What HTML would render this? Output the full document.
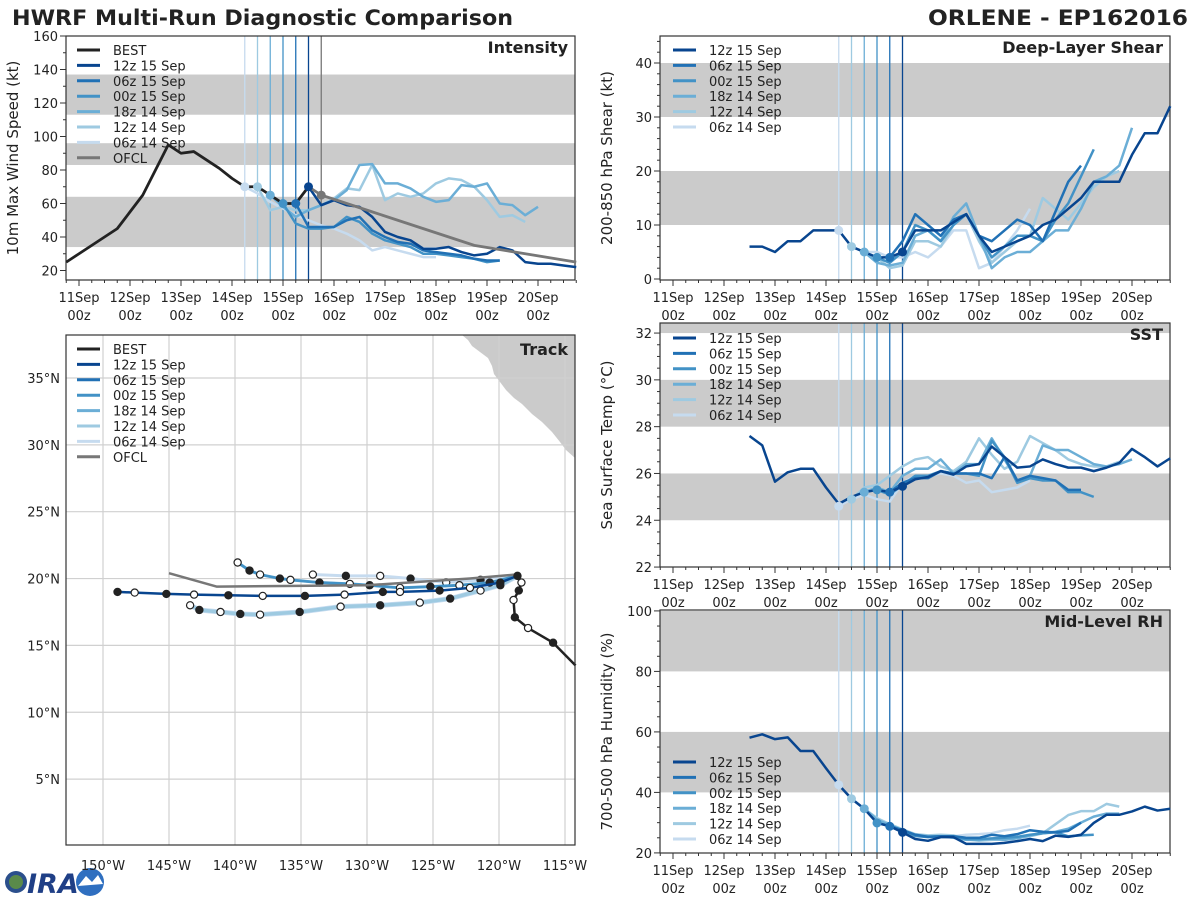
<!DOCTYPE html>
<html><head><meta charset="utf-8"><style>
body{margin:0;background:#fff;}
svg text{font-family:"DejaVu Sans","Liberation Sans",sans-serif;fill:#222;}
</style></head><body>
<svg id="chart" width="1200" height="900" viewBox="0 0 1200 900" xmlns="http://www.w3.org/2000/svg">
<text x="12" y="25" font-size="21" font-weight="bold" textLength="501" lengthAdjust="spacingAndGlyphs">HWRF Multi-Run Diagnostic Comparison</text>
<text x="928" y="25" font-size="21" font-weight="bold" textLength="260" lengthAdjust="spacingAndGlyphs">ORLENE - EP162016</text>
<g>
<circle cx="16" cy="882" r="11" fill="#2b4f8c"/><circle cx="16" cy="882" r="7" fill="#5a8a4a"/>
<text x="27" y="893" font-size="27" font-weight="bold" font-style="italic" style="fill:#1f3f86">IRA</text>
<circle cx="90" cy="882" r="14" fill="#2f6fc0"/><path d="M78 886 L86 876 L92 882 L98 875 L103 884 Z" fill="#fff"/>
</g>
</svg>
<script>
const runNames=['12z 15 Sep','06z 15 Sep','00z 15 Sep','18z 14 Sep','12z 14 Sep','06z 14 Sep'];
const runColors=['#08458f','#2171b5','#4292c6','#6baed6','#9ecae1','#c6dbef'];
const runStarts=[4.5,4.25,4,3.75,3.5,3.25];
const dayLabels=['11Sep','12Sep','13Sep','14Sep','15Sep','16Sep','17Sep','18Sep','19Sep','20Sep'];

const bestIntStart=-0.25;
const bestInt=[25,30,35,40,45,55,65,80,95,90,91,86,81,75,70,70,65,60,60,70];
const ofclT=[4.5,4.75,5.75,6.75,7.75,8.75,9.75];
const ofclV=[70,65,55,45,35,30,25];
const int12z15=[70,59,62,59,58,52,43,40,38,33,33,34,31,29,30,34,32,25,24,24,23,22];
const int06z15=[60,46,46,46,50,52,44,40,37,36,32,31,30,29,27,26,26];
const int00z15=[60,48,45,45,46,52,49,42,38,36,34,30,30,29,28,27,25,26];
const int18z14=[65,58,52,56,59,62,68,83,83.5,72,72,69,64,61,62,71,70,72,60,59,53,58];
const int12z14=[70,56,58,56,56,59,63,69,68,83,62,66,64,66,72,75,74,70,62,52,53,49];
const int06z14=[70,66,61,57,53,50,47,45,42,38,32,34,32,30,28,28];

const histStart=1.5;
const shr12z15=[6,6,5,7,7,9,9,9,6,5,4,4,5,9,9,9,10.5,12,8,5,6,7,8,10,11,13,15,18,18,18,23,27,27,32];
const shr06z15=[4,7,12,10,8,11,12,8,7,9,11,10,7,12.5,18,21];
const shr00z15=[4,3,5,10,9,7,10,12,8,4,6,8,8,7,11,14,19,24];
const shr18z14=[5,3,2.5,3,8,9,7,11.5,14,8,2,4,5,5,7,9,9,13,18,19,21,28];
const shr12z14=[6,5,4,2,2.5,7,7,6,10,12,7,3,5,7,8,15,13,11,14,17,19,20];
const shr06z14=[9,6,5,5,4,4,5,4,6,9,9,2,3,6,9,13];

const sst12z15=[27.6,27.2,25.65,26.05,26.2,26.2,25.4,24.7,25.0,25.2,25.3,25.2,25.45,25.75,25.85,26.1,25.95,26.3,26.4,27.15,26.7,26.25,26.3,26.6,26.4,26.25,26.25,26.1,26.25,26.45,27.05,26.7,26.3,26.65];
const sst06z15=[25.2,25.6,25.8,25.8,26.1,26.0,26.0,26.0,25.8,26.7,25.7,25.9,25.8,25.7,25.3,25.3];
const sst00z15=[25.3,25.1,25.5,25.9,25.9,26.1,26.0,26.0,25.9,27.4,26.7,25.6,25.8,25.7,25.7,25.2,25.2,25.0];
const sst18z14=[25.2,25.4,25.2,25.9,26.2,26.2,26.6,26.0,26.4,26.4,27.5,26.6,25.7,25.9,27.2,27.0,27.0,26.7,26.4,26.3,26.4,26.6];
const sst12z14=[24.9,25.4,25.5,25.9,26.3,26.6,26.7,26.3,26.1,26.5,27.5,26.8,26.2,26.5,27.6,27.3,27.0,26.6,26.4,26.3,26.3,26.5];
const sst06z14=[24.6,24.9,25.1,24.9,24.8,25.6,25.9,25.9,26.0,25.9,25.6,25.7,25.2,25.3,25.4,25.7];

const rh12z15=[58.1,59.2,57.6,58.2,53.7,53.7,48,42.5,37.9,34.6,29.9,28.8,26.8,24.6,24,25.2,25.2,23,23,23,23.3,23.9,24.6,23.9,25.7,25.3,26,29.9,32.6,32.6,33.7,35.3,34,34.6];
const rh06z15=[28.8,27.5,26,25.3,25.5,25.5,25,25,26,25.5,26.2,27.5,27,26.8,27.3,30];
const rh00z15=[29.9,29,27.5,25.6,25.2,25.5,25.2,24.6,24.6,24.8,25,25.3,26,26.5,26.8,25.5,25.8,26];
const rh18z14=[34.6,31,29.2,27.5,26,25.5,25.5,25,24.3,24.3,24.6,24.3,24.8,25.8,26.5,27,28,30,32,33,33];
const rh12z14=[37.9,34.6,31.5,29.5,27.8,26.2,25.8,26,25.8,24.5,24,24.3,24.5,25,25.5,26.5,29.5,32.5,33.8,33.8,36.2,35.3];
const rh06z14=[42.5,38,34.5,31.5,29,27.5,26,25.8,25.5,25.5,26,26.2,26.5,27.5,28,29];

const bestTrackLon=[-114.2,-115.9,-117.8,-118.8,-118.9,-118.5,-118.3,-118.6];
const bestTrackLat=[13.5,15.2,16.3,17.1,18.4,19.1,19.7,20.2];
const ofclTrackLon=[-118.7,-122.2,-130,-141.4,-145.0];
const ofclTrackLat=[20.3,20.0,19.5,19.4,20.4];
const trk12z15Lon=[-118.6,-119.9,-122.2,-124.5,-127.5,-128.8,-131.7,-134.7,-137.9,-140.5,-143.1,-145.2,-147.6,-148.9];
const trk12z15Lat=[20.2,19.7,19.3,19.1,19.0,19.0,18.8,18.7,18.7,18.75,18.8,18.85,18.95,19.0];
const trkUpperLon=[-118.6,-120.7,-123.0,-125.2,-127.5,-129.8,-131.3,-133.6,-135.8,-136.6,-138.1,-138.9,-139.8];
const trkUpperLat=[20.2,19.7,19.5,19.4,19.3,19.5,19.6,19.7,19.9,20.0,20.3,20.6,21.2];
const trk06z14Lon=[-118.6,-121.4,-124.0,-126.7,-129.0,-131.6,-134.1];
const trk06z14Lat=[20.3,19.9,19.7,20.0,20.2,20.2,20.3];
const trkLowerLon=[-118.6,-119.9,-121.4,-123.7,-126.0,-129.0,-132.0,-135.1,-138.1,-139.6,-141.1,-142.7,-143.4];
const trkLowerLat=[20.2,19.5,19.1,18.5,18.2,18.0,17.9,17.5,17.3,17.35,17.5,17.65,18.0];

const NS='http://www.w3.org/2000/svg';
const svg=document.getElementById('chart');
function mk(tag,attrs,parent){const e=document.createElementNS(NS,tag);for(const k in attrs)e.setAttribute(k,attrs[k]);(parent||svg).appendChild(e);return e;}
function txt(s,attrs,parent){const e=mk('text',attrs,parent);e.textContent=s;return e;}

function timePanel(P){
  const g=mk('g',{});
  
  
  const X=d=>P.dx0+d*51;
  const Y=v=>P.y0+(P.vtop-v)*P.ppu;
  P.X=X;P.Y=Y;
  P.bands.forEach(b=>{
    const r=mk('rect',{x:P.x0,y:Math.max(P.y0,Y(b[1])),width:P.x1-P.x0,height:Math.min(P.y1,Y(b[0]))-Math.max(P.y0,Y(b[1])),fill:'#cbcbcb'},g);
    
    
  });
  runStarts.forEach((t,i)=>{
    const l=mk('line',{x1:X(t),x2:X(t),y1:P.y0,y2:P.y1,stroke:runColors[i],'stroke-width':1.3},g);
    
    
  });
  if(P.ofclLine){const l=mk('line',{x1:X(4.75),x2:X(4.75),y1:P.y0,y2:P.y1,stroke:'#777','stroke-width':1.3},g);
    
    }
  const fr=mk('rect',{x:P.x0,y:P.y0,width:P.x1-P.x0,height:P.y1-P.y0,fill:'none',stroke:'#333','stroke-width':1.2},g);
  
  
  for(let d=-0.25;d<=9.76;d+=0.25){
    const major=Math.abs(d-Math.round(d))<0.01;
    mk('line',{x1:X(d),x2:X(d),y1:P.y1,y2:P.y1+(major?6:3),stroke:'#333','stroke-width':1},g);
  }
  dayLabels.forEach((s,d)=>{
    const t=txt(s,{x:X(d),y:P.y1+22,'font-size':13,'text-anchor':'middle'},g);
    
    
    const t2=txt('00z',{x:X(d),y:P.y1+40,'font-size':13,'text-anchor':'middle'},g);
    
    
  });
  for(let v=P.vmin;v<=P.vtop+1e-6;v+=P.minor){
    const yy=Y(v);if(yy>P.y1+0.5||yy<P.y0-0.5)continue;
    const major=Math.abs(v/P.major-Math.round(v/P.major))<1e-6;
    mk('line',{x1:P.x0,x2:P.x0-(major?6:3),y1:yy,y2:yy,stroke:'#333','stroke-width':1},g);
    if(major){const t=txt(String(v),{x:P.x0-8,y:yy+5,'font-size':13,'text-anchor':'end'},g);
      
      }
  }
  const yl=txt(P.ylabel,{x:0,y:0,'font-size':15,'text-anchor':'middle',transform:`translate(${P.x0-48},${(P.y0+P.y1)/2}) rotate(-90)`},g);
  
  
  const tt=txt(P.title,{x:P.x1-7,y:P.y0+17,'font-size':16,'font-weight':'bold','text-anchor':'end'},g);
  
  
  return g;
}
function series(P,g,vals,start,color,name,w){
  const pts=vals.map((v,i)=>P.X(start+i*0.25)+','+P.Y(v)).join(' ');
  const pl=mk('polyline',{points:pts,fill:'none',stroke:color,'stroke-width':w||2.5,'stroke-linejoin':'round'},g);
  
  
  return pl;
}
function marker(P,g,t,v,color){
  const c=mk('circle',{cx:P.X(t),cy:P.Y(v),r:4.5,fill:color},g);
  
  
}
function legend(g,x,y,entries){
  const lg=mk('g',{},g);
  
  
  entries.forEach((e,i)=>{
    const yy=y+i*15.4;
    mk('line',{x1:x,x2:x+23,y1:yy,y2:yy,stroke:e[1],'stroke-width':3},lg);
    const t=txt(e[0],{x:x+36,y:yy+5,'font-size':13},lg);
    
    
  });
}

const PI={name:'intensity-panel',x0:66,x1:575,y0:36,y1:280,dx0:79,vtop:160,ppu:1.675,vmin:20,major:20,minor:10,
  bands:[[34,64],[83,96],[113,137]],ylabel:'10m Max Wind Speed (kt)',title:'Intensity',ofclLine:true};
const gI=timePanel(PI);
const intRuns=[int12z15,int06z15,int00z15,int18z14,int12z14,int06z14];
for(let i=5;i>=0;i--) series(PI,gI,intRuns[i],runStarts[i],runColors[i],'intensity-'+runNames[i].replace(/ /g,'-'));
series(PI,gI,bestInt,bestIntStart,'#222','best-intensity',2.8);
const op=mk('polyline',{points:ofclT.map((t,i)=>PI.X(t)+','+PI.Y(ofclV[i])).join(' '),fill:'none',stroke:'#777','stroke-width':2.8},gI);


runStarts.forEach((t,i)=>marker(PI,gI,t,bestInt[Math.round((t-bestIntStart)/0.25)],runColors[i]));
marker(PI,gI,ofclT[1],ofclV[1],'#777');
legend(gI,77,50,[['BEST','#222']].concat(runNames.map((n,i)=>[n,runColors[i]])).concat([['OFCL','#777']]));

function rightPanel(P,arrs){
  const g=timePanel(P);
  for(let i=5;i>=0;i--){const st=i===0?histStart:runStarts[i];series(P,g,arrs[i],st,runColors[i],P.name+'-'+runNames[i].replace(/ /g,'-'));}
  runStarts.forEach((t,i)=>{const st=i===0?histStart:t;marker(P,g,t,arrs[i][Math.round((t-st)/0.25)],runColors[i]);});
  legend(g,673,P.legY,runNames.map((n,i)=>[n,runColors[i]]));
}
rightPanel({name:'shear-panel',x0:660,x1:1170,y0:36,y1:280,dx0:673,vtop:45,ppu:5.4,vmin:0,major:10,minor:2,
  bands:[[10,20],[30,40]],ylabel:'200-850 hPa Shear (kt)',title:'Deep-Layer Shear',legY:50},[shr12z15,shr06z15,shr00z15,shr18z14,shr12z14,shr06z14]);
rightPanel({name:'sst-panel',x0:660,x1:1170,y0:323,y1:567,dx0:673,vtop:32.43,ppu:23.4,vmin:22,major:2,minor:0.5,
  bands:[[24,26],[28,30],[32,34]],ylabel:'Sea Surface Temp (°C)',title:'SST',legY:338},[sst12z15,sst06z15,sst00z15,sst18z14,sst12z14,sst06z14]);
rightPanel({name:'rh-panel',x0:660,x1:1170,y0:610,y1:853,dx0:673,vtop:100.3,ppu:3.025,vmin:20,major:20,minor:5,
  bands:[[40,60],[80,100]],ylabel:'700-500 hPa Humidity (%)',title:'Mid-Level RH',legY:762},[rh12z15,rh06z15,rh00z15,rh18z14,rh12z14,rh06z14]);

const gT=mk('g',{});


const LX=lon=>103+(150+lon)*13.2;
const LY=lat=>378+(35-lat)*13.37;
const land=mk('polygon',{points:'462,335 468,340 472,346 480,352 488,358 492,366 494,374 500,382 506,390 514,398 522,404 532,414 542,422 552,432 560,442 566,450 575,458 575,335',fill:'#cbcbcb'},gT);


for(let lat=5;lat<=35;lat+=5){
  mk('line',{x1:66,x2:575,y1:LY(lat),y2:LY(lat),stroke:'#d0d0d0','stroke-width':1.2},gT);
  const t=txt(lat+'°N',{x:60,y:LY(lat)+5,'font-size':13,'text-anchor':'end'},gT);
  
  
}
for(let lon=-150;lon<=-115;lon+=5){
  mk('line',{x1:LX(lon),x2:LX(lon),y1:335,y2:845,stroke:'#d0d0d0','stroke-width':1.2},gT);
  const t=txt((-lon)+'°W',{x:LX(lon),y:870,'font-size':13,'text-anchor':'middle'},gT);
  
  
}
function track(lons,lats,color,name,w,marks){
  const pl=mk('polyline',{points:lons.map((l,i)=>LX(l)+','+LY(lats[i])).join(' '),fill:'none',stroke:color,'stroke-width':w,'stroke-linejoin':'round'},gT);
  
  
  if(marks) lons.forEach((l,i)=>{if(i===0)return;
    const c=mk('circle',{cx:LX(l),cy:LY(lats[i]),r:3.6,fill:i%2?'#222':'#fff',stroke:'#222','stroke-width':1.2},gT);
    
    });
}
track(trkLowerLon,trkLowerLat,'#c6dbef','track-06z-14-sep',5,false);
track(trkLowerLon,trkLowerLat,'#9ecae1','track-12z-14-sep',3.5,true);
track(trk06z14Lon,trk06z14Lat,'#c6dbef','track-06z14-upper',3,true);
track(trkUpperLon,trkUpperLat,'#6baed6','track-18z-14-sep',3,false);
track(trkUpperLon,trkUpperLat,'#4292c6','track-00z-15-sep',2.5,true);
track(trk12z15Lon,trk12z15Lat,'#08458f','track-12z-15-sep',2.5,true);
track(ofclTrackLon,ofclTrackLat,'#777','track-ofcl',2.5,false);
track(bestTrackLon,bestTrackLat,'#222','track-best',2.5,true);
const tf=mk('rect',{x:66,y:335,width:509,height:510,fill:'none',stroke:'#333','stroke-width':1.2},gT);


const tt=txt('Track',{x:568,y:355,'font-size':16,'font-weight':'bold','text-anchor':'end'},gT);


legend(gT,77,349,[['BEST','#222']].concat(runNames.map((n,i)=>[n,runColors[i]])).concat([['OFCL','#777']]));
</script>
</body></html>
